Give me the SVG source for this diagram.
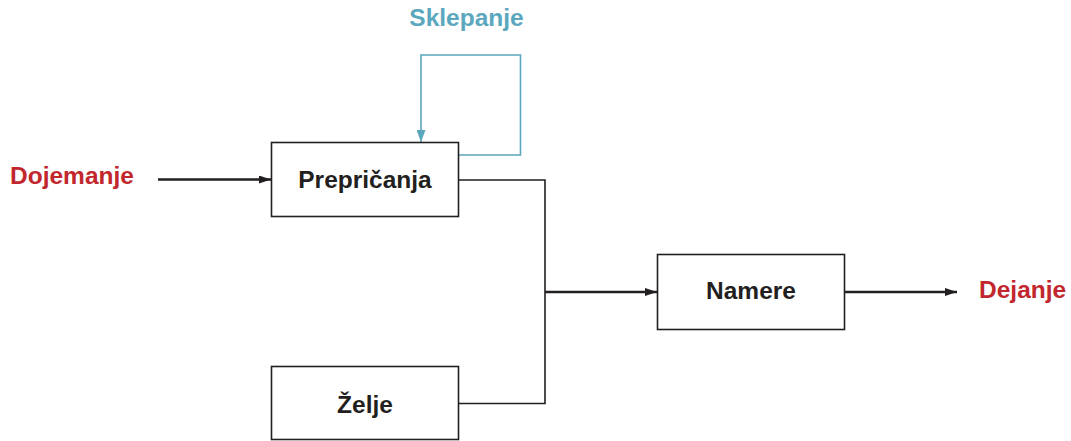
<svg xmlns="http://www.w3.org/2000/svg" width="1071" height="441" viewBox="0 0 1071 441">
<style>
.box{fill:#fff;stroke:#231f20;stroke-width:1.6}
.lbl{font-family:"Liberation Sans",Arial,sans-serif;font-weight:bold;font-size:24.5px;fill:#231f20;text-anchor:middle}
.red{fill:#c1272d;text-anchor:start}
.blue{fill:#5ba7be}
.ln{fill:none;stroke:#231f20;stroke-width:1.6}
.arr{fill:none;stroke:#231f20;stroke-width:2.6}
.bl{fill:none;stroke:#5ba7be;stroke-width:1.6}
</style>
<defs>
<marker id="ah" viewBox="0 0 12 8" refX="12" refY="4" markerWidth="12" markerHeight="8" orient="auto" markerUnits="userSpaceOnUse">
<path d="M0,0 L12,4 L0,8 Z" fill="#231f20"/>
</marker>
<marker id="ahb" viewBox="0 0 12 9" refX="12" refY="4.5" markerWidth="12" markerHeight="9" orient="auto" markerUnits="userSpaceOnUse">
<path d="M0,0 L12,4.5 L0,9 Z" fill="#5ba7be"/>
</marker>
</defs>
<g id="connectors">
<path class="arr" d="M158,179.5 H271" marker-end="url(#ah)"/>
<path class="bl" d="M459,155 H520.5 V55 H421" />
<path class="bl" d="M421,54.2 V142" stroke-width="2.6" marker-end="url(#ahb)"/>
<path class="ln" d="M459,180 H545 V403.5 H459"/>
<path class="arr" d="M545,292 H657" marker-end="url(#ah)"/>
<path class="arr" d="M845,292 H957" marker-end="url(#ah)"/>
</g>
<g id="dojemanje"><text class="lbl red" x="10" y="184">Dojemanje</text></g>
<g id="sklepanje"><text class="lbl blue" x="466.5" y="26">Sklepanje</text></g>
<g id="dejanje"><text class="lbl red" x="979" y="298">Dejanje</text></g>
<g id="prepricanja">
<rect class="box" x="271.5" y="142.5" width="187" height="74"/>
<text class="lbl" x="365" y="188">Prepričanja</text>
</g>
<g id="zelje">
<rect class="box" x="271.5" y="366.5" width="187" height="73"/>
<text class="lbl" x="365" y="413">Želje</text>
</g>
<g id="namere">
<rect class="box" x="657.5" y="254.5" width="187" height="75"/>
<text class="lbl" x="751" y="299">Namere</text>
</g>
</svg>
